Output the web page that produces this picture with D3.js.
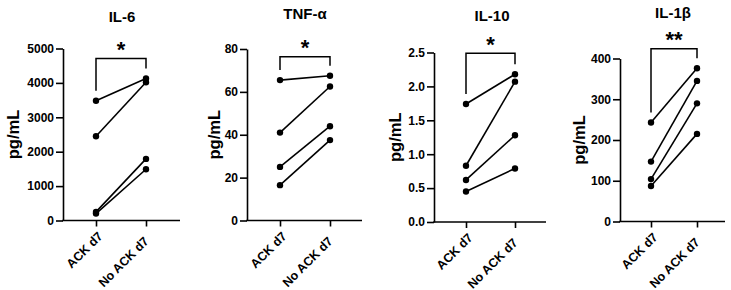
<!DOCTYPE html>
<html>
<head>
<meta charset="utf-8">
<script src="https://cdn.jsdelivr.net/npm/d3@7"></script>
<style>
  body { margin: 0; background: #fff; }
  svg { display: block; font-family: "Liberation Sans", Arial, sans-serif; }
</style>
</head>
<body>
<div id="chart-area"></div>
<script>
const width = 731, height = 290;

// Data
const panelNames = ["IL-6", "TNF-α", "IL-10", "IL-1β"];
const groups = ["ACK d7", "No ACK d7"];

const il6Ack = [3480, 2450, 250, 200];
const il6NoAck = [4130, 4020, 1790, 1490];
const tnfAck = [65.5, 41, 25, 16.5];
const tnfNoAck = [67.5, 62.5, 44, 37.5];
const il10Ack = [1.74, 0.83, 0.62, 0.45];
const il10NoAck = [2.18, 2.07, 1.28, 0.79];
const il1bAck = [243, 147, 104, 87];
const il1bNoAck = [376, 345, 290, 215];

const il6Ticks = [0, 1000, 2000, 3000, 4000, 5000];
const tnfTicks = [0, 20, 40, 60, 80];
const il10Ticks = [0.0, 0.5, 1.0, 1.5, 2.0, 2.5];
const il1bTicks = [0, 100, 200, 300, 400];

const stars = ["*", "*", "*", "**"];

// Layout (pixels) per panel
const layout = [
    {ax: 63, top: 48.5, bottom: 220.5, x0: 96, x1: 146, xEnd: 180, labelX: 13, titleX: 122, titleY: 21.7, bracketY: 58.5, fmt: d3.format("d")},
    {ax: 247, top: 49, bottom: 220.5, x0: 280, x1: 330, xEnd: 362, labelX: 214, titleX: 305, titleY: 19.3, bracketY: 56.7, fmt: d3.format("d")},
    {ax: 434, top: 52.5, bottom: 222, x0: 466, x1: 515, xEnd: 546, labelX: 395, titleX: 492, titleY: 20.7, bracketY: 53.3, fmt: d3.format(".1f")},
    {ax: 620, top: 58.5, bottom: 221.5, x0: 651, x1: 697, xEnd: 725, labelX: 579, titleX: 673, titleY: 18.3, bracketY: 48.7, fmt: d3.format("d")}
];
// rotated category label offsets from the tick
const catOffset = [[7, 16.5], [3, 21.5]];

const panels = [
    {ack: il6Ack, noAck: il6NoAck, ticks: il6Ticks},
    {ack: tnfAck, noAck: tnfNoAck, ticks: tnfTicks},
    {ack: il10Ack, noAck: il10NoAck, ticks: il10Ticks},
    {ack: il1bAck, noAck: il1bNoAck, ticks: il1bTicks}
];

const svg = d3.select("#chart-area").append("svg")
    .attr("width", width)
    .attr("height", height);

panels.forEach((p, i) => {
    const L = layout[i];
    const g = svg.append("g");

    const y = d3.scaleLinear()
        .domain([0, d3.max(p.ticks)])
        .range([L.bottom, L.top]);

    const x = d3.scalePoint()
        .domain(groups)
        .range([L.x0, L.x1]);

    // y axis
    g.append("g")
        .attr("transform", `translate(${L.ax},0)`)
        .call(d3.axisLeft(y).tickValues(p.ticks).tickFormat(L.fmt).tickSize(7).tickSizeOuter(0).tickPadding(2))
        .call(a => a.select(".domain").attr("stroke-width", 1.6))
        .call(a => a.selectAll(".tick line").attr("stroke-width", 1.6))
        .call(a => a.selectAll("text")
            .style("font-size", "12px")
            .style("font-weight", "700")
            .style("font-family", "'Liberation Sans', Arial, sans-serif")
            .attr("fill", "#000"));

    // x axis
    g.append("g")
        .attr("transform", `translate(0,${L.bottom})`)
        .call(d3.axisBottom(x).tickSize(6).tickSizeOuter(0))
        .call(a => a.select(".domain").remove())
        .call(a => a.selectAll(".tick line").attr("stroke-width", 1.6))
        .call(a => a.selectAll("text")
            .attr("y", 0)
            .attr("dy", 0)
            .attr("text-anchor", "end")
            .attr("transform", (d, k) => `translate(${catOffset[k][0]},${catOffset[k][1]}) rotate(-45)`)
            .style("font-size", "12.5px")
            .style("font-weight", "700")
            .style("font-family", "'Liberation Sans', Arial, sans-serif")
            .attr("fill", "#000"));

    g.append("line")
        .attr("x1", L.ax - 0.8).attr("x2", L.xEnd)
        .attr("y1", L.bottom).attr("y2", L.bottom)
        .attr("stroke", "#000").attr("stroke-width", 1.6);

    // paired lines
    const pairs = p.ack.map((v, k) => [v, p.noAck[k]]);
    g.append("g").selectAll("line")
        .data(pairs)
        .join("line")
        .attr("x1", x(groups[0])).attr("x2", x(groups[1]))
        .attr("y1", d => y(d[0])).attr("y2", d => y(d[1]))
        .attr("stroke", "#000").attr("stroke-width", 1.6);

    const pts = [];
    pairs.forEach(d => { pts.push([groups[0], d[0]]); pts.push([groups[1], d[1]]); });
    g.append("g").selectAll("circle")
        .data(pts)
        .join("circle")
        .attr("cx", d => x(d[0]))
        .attr("cy", d => y(d[1]))
        .attr("r", 3.2)
        .attr("fill", "#000");

    // significance bracket
    const leftBottom = y(d3.max(p.ack)) - 10;
    const rightBottom = y(d3.max(p.noAck)) - 10;
    g.append("path")
        .attr("d", `M${x(groups[0])},${leftBottom}V${L.bracketY}H${x(groups[1])}V${rightBottom}`)
        .attr("fill", "none").attr("stroke", "#000").attr("stroke-width", 1.5);

    g.append("text")
        .attr("x", (x(groups[0]) + x(groups[1])) / 2)
        .attr("y", L.bracketY - 1.5)
        .attr("text-anchor", "middle")
        .attr("font-size", "22px")
        .attr("font-weight", "bold")
        .text(stars[i]);

    // title
    g.append("text")
        .attr("x", L.titleX)
        .attr("y", L.titleY)
        .attr("text-anchor", "middle")
        .attr("font-size", "15px")
        .attr("font-weight", "bold")
        .text(panelNames[i]);

    // y label
    g.append("text")
        .attr("transform", `translate(${L.labelX},${(L.top + L.bottom) / 2}) rotate(-90)`)
        .attr("text-anchor", "middle")
        .attr("dy", "0.35em")
        .attr("font-size", "16.5px")
        .attr("font-weight", "bold")
        .text("pg/mL");
});
</script>
</body>
</html>
